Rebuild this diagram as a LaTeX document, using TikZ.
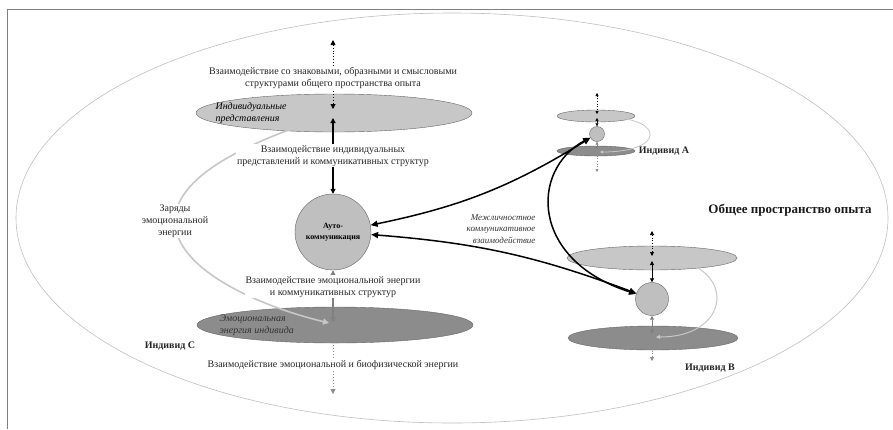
\documentclass[tikz,border=0pt]{standalone}
\usepackage{fontspec}
\setmainfont{Liberation Serif}
\usetikzlibrary{arrows.meta,shapes.geometric,positioning}

\begin{document}
\begin{tikzpicture}[x=1pt, y=-1pt,
    tw/.style={{Triangle[length=5pt,width=5pt]}-{Triangle[length=5pt,width=5pt]}},
    twm/.style={{Triangle[length=4pt,width=4pt]}-{Triangle[length=4pt,width=4pt]}},
    tws/.style={{Triangle[length=3pt,width=3pt]}-{Triangle[length=3pt,width=3pt]}},
    reprell/.style={ellipse, draw=black!60, fill=black!22, inner sep=0pt},
    emoell/.style={ellipse, draw=black!60, fill=black!45, inner sep=0pt},
    selfcirc/.style={circle, draw=black!60, fill=black!25, inner sep=0pt},
    lbl/.style={fill=white, inner sep=1pt, align=center, text=black!85},
    elltxt/.style={anchor=west, align=left, font=\fontsize{10}{11.5}\selectfont\itshape},
    who/.style={font=\fontsize{10}{12}\selectfont\bfseries, text=black!85},
    charge/.style={line width=1.6pt, black!22},
    link/.style={{Triangle[length=7pt,width=6pt]}-{Triangle[length=7pt,width=6pt]}, line width=1.5pt}
]
\useasboundingbox (0,0) rectangle (893,429);

% frame and common space
\draw[black!50, line width=0.8pt] (893,9) -- (7,9) -- (7,429);
\draw[black!25, line width=0.6pt] (452,218) ellipse [x radius=436pt, y radius=205pt];
\node[font=\fontsize{13}{15}\selectfont\bfseries, text=black!90] (common) at (790,210) {Общее пространство опыта};

% individual C
\node[reprell, minimum width=276pt, minimum height=38pt] (repr) at (334,113) {};
\node[emoell, minimum width=276pt, minimum height=36pt] (emo) at (335,325) {};
\node[selfcirc, minimum size=76pt, font=\fontsize{8}{11}\selectfont\bfseries, align=center] (self) at (333,232) {Ауто-\\коммуникация};
\node[elltxt] (reprtxt) at (212,113) {Индивидуальные\\представления};
\node[elltxt, text=black!80] (emotxt) at (216,325) {Эмоциональная\\энергия индивида};
\node[who] (indC) at (170,346) {Индивид С};

\coordinate (upC) at (333,40);
\coordinate (reprIn) at (333,109);
\coordinate (reprOut) at (333,118);
\coordinate (emoIn) at (333,322);
\coordinate (emoOut) at (333,329);
\coordinate (downC) at (333,394);
\coordinate (reprCh) at (329,116);
\coordinate (chargeMid) at (175,221);
\coordinate (emoCh) at (329,323);

\draw[charge, {Triangle[length=6pt,width=6pt]}-] (reprCh) .. controls (262,138) and (175,172) .. (chargeMid);
\draw[charge, -{Triangle[length=6pt,width=6pt]}] (chargeMid) .. controls (175,268) and (255,305) .. (emoCh);
\node[lbl] (chargetxt) at (chargeMid) {Заряды\\эмоциональной\\энергии};

\draw[tw, dotted, line width=0.9pt] (upC) -- node[lbl, pos=0.55] {Взаимодействие со знаковыми, образными и смысловыми\\структурами общего пространства опыта} (reprIn);
\draw[tw, line width=1.1pt] (reprOut) -- node[lbl] {Взаимодействие индивидуальных\\представлений и коммуникативных структур} (self);
\draw[tw, line width=1.1pt, black!50] (self) -- node[lbl, pos=0.32] {Взаимодействие эмоциональной энергии\\и коммуникативных структур} (emoIn);
\draw[tw, dotted, line width=0.9pt, black!45] (emoOut) -- node[lbl, pos=0.55] {Взаимодействие эмоциональной и биофизической энергии} (downC);

% individual A
\node[reprell, minimum width=78pt, minimum height=12pt] (reprA) at (596,116) {};
\node[emoell, minimum width=78pt, minimum height=10pt] (emoA) at (596,151) {};
\node[selfcirc, minimum size=15pt] (selfA) at (597,134) {};
\node[who] (indA) at (664,151) {Индивид А};

\coordinate (upA) at (597,93);
\coordinate (reprAin) at (597,114);
\coordinate (reprAout) at (597,118);
\coordinate (emoAin) at (597,149);
\coordinate (emoAout) at (597,153);
\coordinate (downA) at (597,172);

\draw[tws, dotted, line width=0.6pt] (upA) -- (reprAin);
\draw[tws, line width=0.6pt] (reprAout) -- (selfA);
\draw[tws, line width=0.6pt, black!50] (selfA) -- (emoAin);
\draw[tws, dotted, line width=0.6pt, black!45] (emoAout) -- (downA);
\draw[tws, line width=0.8pt, black!22] (600,117) .. controls (666,117) and (666,152) .. (600,152);

% individual B
\node[reprell, minimum width=170pt, minimum height=24pt] (reprB) at (652,258) {};
\node[emoell, minimum width=170pt, minimum height=24pt] (emoB) at (653,338) {};
\node[selfcirc, minimum size=33pt] (selfB) at (652,299) {};
\node[who] (indB) at (710,368) {Индивид В};

\coordinate (upB) at (652,231);
\coordinate (reprBin) at (652,256);
\coordinate (reprBout) at (652,261);
\coordinate (emoBin) at (652,334);
\coordinate (emoBout) at (652,344);
\coordinate (downB) at (652,361);

\draw[twm, dotted, line width=0.7pt] (upB) -- (reprBin);
\draw[twm, line width=0.8pt] (reprBout) -- (selfB);
\draw[twm, line width=0.8pt, black!50] (selfB) -- (emoBin);
\draw[twm, dotted, line width=0.7pt, black!45] (emoBout) -- (downB);
\draw[twm, line width=1pt, black!22] (656,259) .. controls (736,259) and (736,337) .. (656,337);

% interpersonal links
\draw[link] (self) to[bend right=10] (selfA);
\draw[link] (self) to[bend left=8] (selfB);
\draw[link] (selfA) .. controls (530,170) and (530,260) .. (selfB);
\node[anchor=east, align=right, font=\fontsize{9}{11.5}\selectfont\itshape, text=black!80] (inter) at (539,229) {Межличностное\\коммуникативное\\взаимодействие};

\end{tikzpicture}
\end{document}
